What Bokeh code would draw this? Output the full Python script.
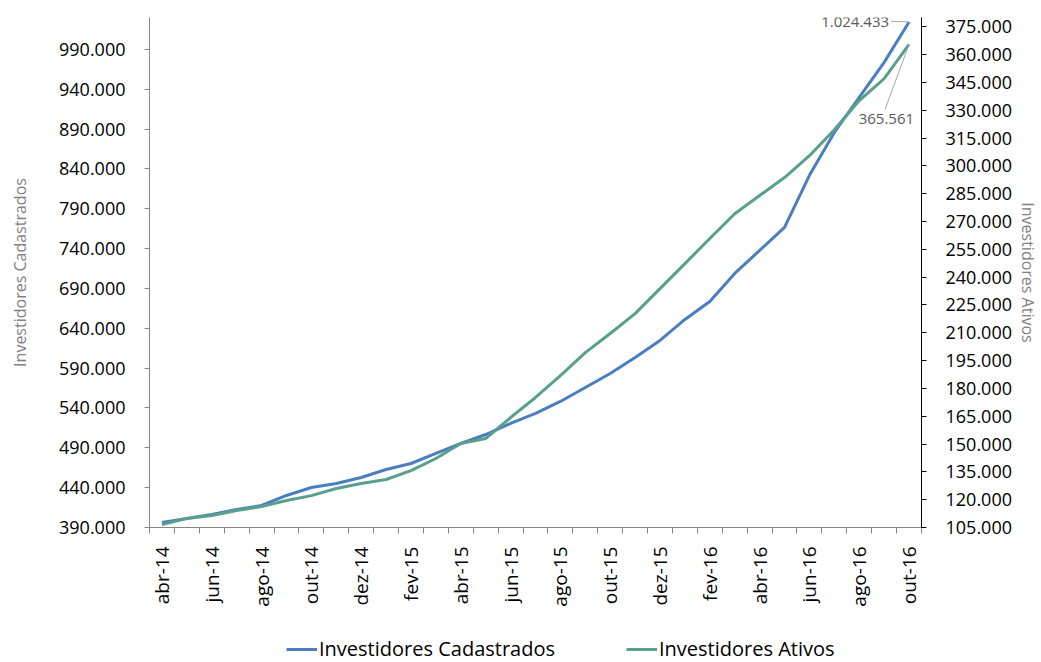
from bokeh.plotting import figure
from bokeh.layouts import column
from bokeh.models import (Range1d, LinearAxis, FixedTicker, Legend, LegendItem, Label)
from bokeh.embed import file_html
from bokeh.resources import INLINE

months = ["abr-14", "mai-14", "jun-14", "jul-14", "ago-14", "set-14", "out-14", "nov-14",
          "dez-14", "jan-15", "fev-15", "mar-15", "abr-15", "mai-15", "jun-15", "jul-15",
          "ago-15", "set-15", "out-15", "nov-15", "dez-15", "jan-16", "fev-16", "mar-16",
          "abr-16", "mai-16", "jun-16", "jul-16", "ago-16", "set-16", "out-16"]

cadastrados = [396300, 401300, 406300, 412600, 417600, 430200, 440200, 445200, 452800,
               462800, 470300, 482900, 495400, 506700, 520600, 533100, 548200, 565700,
               583300, 603400, 624700, 651100, 673700, 708800, 737700, 766600, 831900,
               885800, 929800, 973700, 1024433]

ativos = [106600, 109900, 111500, 114200, 116300, 119550, 122200, 126000, 128700,
          130900, 135700, 142200, 150300, 153000, 164300, 175100, 186900, 199300,
          209600, 220300, 233800, 247300, 260800, 274200, 284000, 293700, 305500,
          319500, 335200, 347000, 365561]

left_ticks = list(range(390000, 990001, 50000))
right_ticks = list(range(105000, 375001, 15000))
x_label_idx = list(range(0, 31, 2))
series_names = ["Investidores Cadastrados", "Investidores Ativos"]


def br(v):
    return f"{v:,}".replace(",", ".")


FONT = "Open Sans"
BLUE = "#4a7ebf"
GREEN = "#58a08d"

x = list(range(len(months)))

p = figure(width=1041, height=620, output_backend="svg", toolbar_location=None,
           x_range=Range1d(-0.5, len(months) - 0.5),
           y_range=Range1d(390000, 1030000),
           min_border_left=149, min_border_right=117, min_border_top=17,
           min_border_bottom=93, y_axis_location=None, x_axis_location=None)
p.outline_line_color = None
p.xgrid.visible = False
p.ygrid.visible = False
p.background_fill_color = "white"
p.border_fill_color = "white"
p.extra_y_ranges = {"ativos": Range1d(105000, 380000)}

# left axis
la = LinearAxis(ticker=FixedTicker(ticks=left_ticks, minor_ticks=[]),
                major_label_overrides={t: br(t) for t in left_ticks})
la.axis_label = series_names[0]
la.axis_label_text_font = FONT
la.axis_label_text_font_size = "16px"
la.axis_label_text_font_style = "normal"
la.axis_label_text_color = "#808080"
la.axis_label_standoff = 25
la.major_label_text_font = FONT
la.major_label_text_font_size = "18px"
la.major_label_text_color = "#000000"
la.major_label_standoff = 19
la.major_tick_out = 5
la.major_tick_in = 0
la.minor_tick_out = 0
la.axis_line_color = "#868686"
la.major_tick_line_color = "#868686"
p.add_layout(la, "left")

# right axis
ra = LinearAxis(y_range_name="ativos",
                ticker=FixedTicker(ticks=right_ticks, minor_ticks=[]),
                major_label_overrides={t: br(t) for t in right_ticks})
ra.axis_label = series_names[1]
ra.axis_label_text_font = FONT
ra.axis_label_text_font_size = "16px"
ra.axis_label_text_font_style = "normal"
ra.axis_label_text_color = "#808080"
ra.axis_label_standoff = 2
ra.major_label_text_font = FONT
ra.major_label_text_font_size = "18px"
ra.major_label_text_color = "#000000"
ra.major_label_standoff = 19
ra.major_tick_out = 5
ra.major_tick_in = 0
ra.minor_tick_out = 0
ra.axis_line_color = "#000000"
ra.major_tick_line_color = "#000000"
p.add_layout(ra, "right")

# bottom axis
xa = LinearAxis(ticker=FixedTicker(ticks=x_label_idx,
                                   minor_ticks=[i - 0.5 for i in range(len(months) + 1)]),
                major_label_overrides={i: months[i] for i in x_label_idx})
xa.major_label_orientation = 1.5708
xa.major_label_text_font = FONT
xa.major_label_text_font_size = "19px"
xa.major_label_text_color = "#000000"
xa.major_label_standoff = 13
xa.major_tick_out = 0
xa.major_tick_in = 0
xa.minor_tick_out = 6
xa.minor_tick_in = 0
xa.axis_line_color = "#868686"
xa.minor_tick_line_color = "#868686"
p.add_layout(xa, "below")

p.line(x, cadastrados, line_color=BLUE, line_width=3)
p.line(x, ativos, line_color=GREEN, line_width=3, y_range_name="ativos")

# data labels
last = len(months) - 1
p.add_layout(Label(x=last, y=cadastrados[-1], text=br(cadastrados[-1]),
                   x_offset=-20, y_offset=0, text_font=FONT, text_font_size="15px",
                   text_color="#595959", text_align="right", text_baseline="middle"))
p.segment(x0=[last - 0.74], y0=[cadastrados[-1] + 800], x1=[last], y1=[cadastrados[-1]],
          line_color="#a6a6a6", line_width=1)

p.add_layout(Label(x=last, y=ativos[-1], text=br(ativos[-1]), y_range_name="ativos",
                   x_offset=5, y_offset=-75, text_font=FONT, text_font_size="15px",
                   text_color="#595959", text_align="right", text_baseline="middle"))
p.segment(x0=[last - 0.96], y0=[ativos[-1] - 35000], x1=[last], y1=[ativos[-1]],
          line_color="#a6a6a6", line_width=1, y_range_name="ativos")

# legend strip below the chart (its frame is aligned with the chart frame)
p2 = figure(width=1041, height=42, output_backend="svg", toolbar_location=None,
            x_range=Range1d(1000, 1001), y_range=Range1d(0, 1),
            x_axis_location=None, y_axis_location=None,
            min_border_left=0, min_border_right=0, min_border_top=0, min_border_bottom=0)
p2.outline_line_color = None
p2.xgrid.visible = False
p2.ygrid.visible = False
l1 = p2.line(x, cadastrados, line_color=BLUE, line_width=3)
l2 = p2.line(x, ativos, line_color=GREEN, line_width=3)

legend = Legend(items=[LegendItem(label=series_names[0], renderers=[l1]),
                       LegendItem(label=series_names[1], renderers=[l2])],
                orientation="horizontal", location=(137, 0))
legend.label_text_font = FONT
legend.label_text_font_size = "20px"
legend.label_text_color = "#000000"
legend.glyph_width = 31
legend.label_standoff = 2
legend.spacing = 71
legend.padding = 0
legend.margin = 0
legend.border_line_color = None
legend.background_fill_alpha = 0
p2.add_layout(legend, "center")

layout = column(p, p2, spacing=0)
open("out.html", "w").write(file_html(layout, INLINE))
